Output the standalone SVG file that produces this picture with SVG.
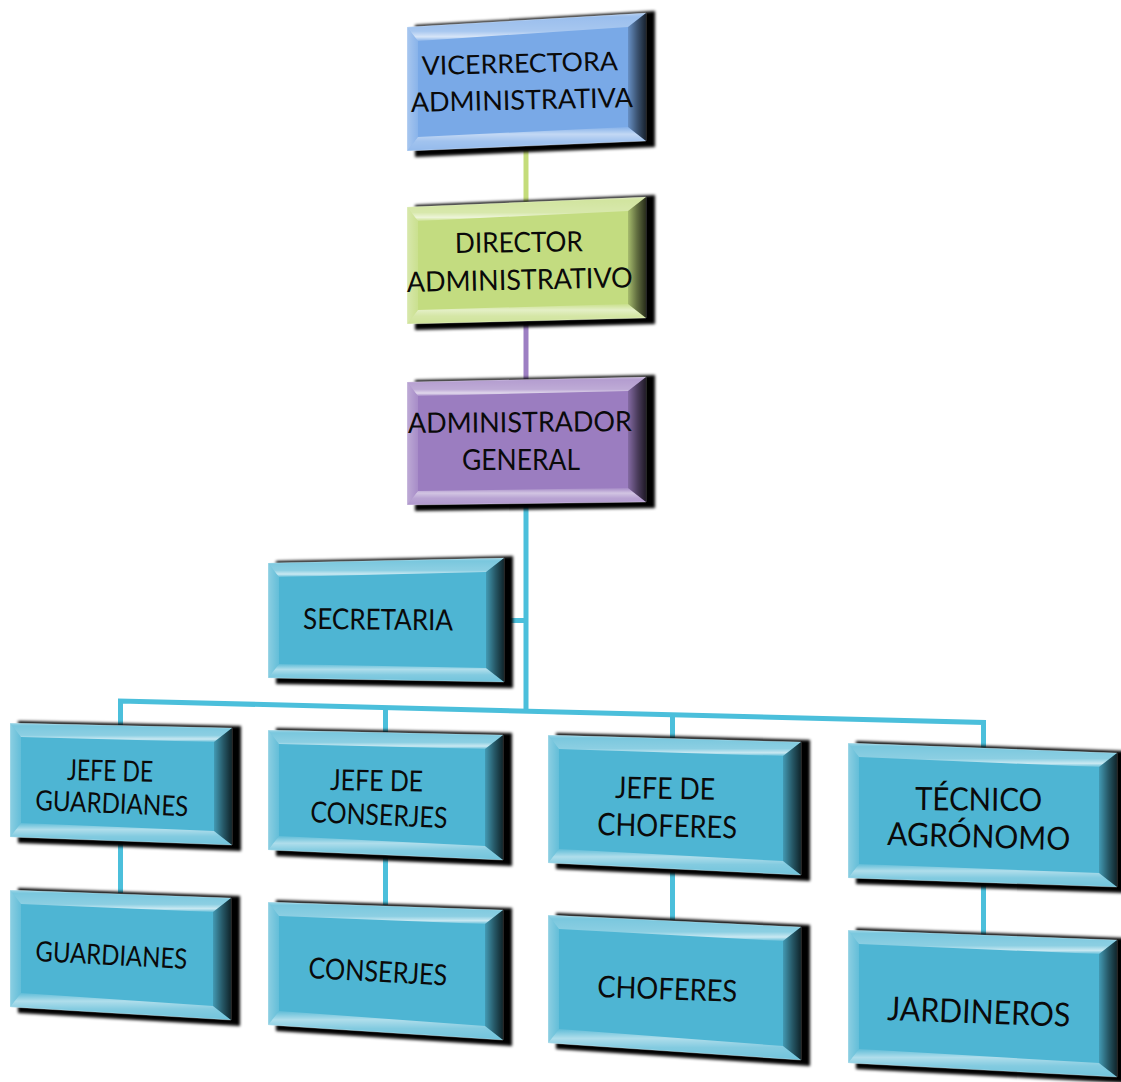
<svg xmlns="http://www.w3.org/2000/svg" width="1121" height="1082" viewBox="0 0 1121 1082">
  <defs>
    <linearGradient id="gTop" x1="0" y1="0" x2="0" y2="1">
      <stop offset="0" stop-color="#fff" stop-opacity="0.45"/>
      <stop offset="0.15" stop-color="#fff" stop-opacity="0.25"/>
      <stop offset="0.65" stop-color="#fff" stop-opacity="0.35"/>
      <stop offset="0.85" stop-color="#fff" stop-opacity="0.7"/>
      <stop offset="1" stop-color="#fff" stop-opacity="0.12"/>
    </linearGradient>
    <linearGradient id="gBot" x1="0" y1="0" x2="0" y2="1">
      <stop offset="0" stop-color="#fff" stop-opacity="0.1"/>
      <stop offset="0.3" stop-color="#fff" stop-opacity="0.55"/>
      <stop offset="0.6" stop-color="#fff" stop-opacity="0.3"/>
      <stop offset="1" stop-color="#fff" stop-opacity="0.2"/>
    </linearGradient>
    <linearGradient id="gLeft" x1="0" y1="0" x2="1" y2="0">
      <stop offset="0" stop-color="#fff" stop-opacity="0.35"/>
      <stop offset="1" stop-color="#fff" stop-opacity="0.12"/>
    </linearGradient>
    <linearGradient id="gRight" x1="0" y1="0" x2="1" y2="0">
      <stop offset="0" stop-color="#000" stop-opacity="0.15"/>
      <stop offset="0.5" stop-color="#000" stop-opacity="0.5"/>
      <stop offset="1" stop-color="#000" stop-opacity="0.8"/>
    </linearGradient>
    <filter id="soft" x="-10%" y="-10%" width="120%" height="120%">
      <feGaussianBlur stdDeviation="1.5"/>
    </filter>
  </defs>
  <style>
    .shadow{fill:#000;filter:url(#soft)}
    .blue .face{fill:#79a9e7}
    .green .face{fill:#c3dc80}
    .purple .face{fill:#9b7dc0}
    .cyan .face{fill:#4eb5d3}
    .face{stroke:#fff;stroke-opacity:0.3;stroke-width:1}
    .top{fill:url(#gTop)}
    .bot{fill:url(#gBot)}
    .left{fill:url(#gLeft)}
    .right{fill:url(#gRight)}
    .lbl{font-family:Lato,"Open Sans","Liberation Sans",sans-serif;fill:#0a0a0a}
    .ln{fill:none;stroke-width:5;stroke-linejoin:miter}
    .ln-g{stroke:#c4dc7a}
    .ln-p{stroke:#9d7fc3}
    .ln-c{stroke:#4bbfdb}
  </style>

  <g id="connectors">
    <path class="ln ln-g" d="M526,150 V208"/>
    <path class="ln ln-p" d="M526,323 V383"/>
    <path class="ln ln-c" d="M526,503 V712"/>
    <path class="ln ln-c" d="M503,620.5 H526"/>
    <path class="ln ln-c" d="M120.5,727 V701 L983.5,722.5 V750"/>
    <path class="ln ln-c" d="M385.5,707.6 V734"/>
    <path class="ln ln-c" d="M672.5,714.7 V740"/>
    <path class="ln ln-c" d="M120.5,840 V893"/>
    <path class="ln ln-c" d="M385.5,855 V905"/>
    <path class="ln ln-c" d="M672.5,870 V920"/>
    <path class="ln ln-c" d="M983.5,882 V935"/>
  </g>

  <g id="vicerrectora" class="blue">
    <path class="shadow" d="M415,25 L655,11 L655,147 L415,157 Z"/>
    <path class="face" d="M407,27 L646,13 L646,141 L407,151 Z"/>
    <path class="top" d="M407,27 L646,13 L628,27 L418,41 Z"/>
    <path class="left" d="M407,27 L418,41 L418,137 L407,151 Z"/>
    <path class="bot" d="M407,151 L418,137 L628,127 L646,141 Z"/>
    <path class="right" d="M646,13 L646,141 L628,127 L628,27 Z"/>
    <text class="lbl" font-size="26" transform="translate(422,75) rotate(-1.4)" textLength="196" lengthAdjust="spacingAndGlyphs">VICERRECTORA</text>
    <text class="lbl" font-size="27" transform="translate(411,112) rotate(-1.3)" textLength="222" lengthAdjust="spacingAndGlyphs">ADMINISTRATIVA</text>
  </g>

  <g id="director" class="green">
    <path class="shadow" d="M415,205 L655,195 L655,324 L415,330 Z"/>
    <path class="face" d="M407,207 L646,197 L646,318 L407,324 Z"/>
    <path class="top" d="M407,207 L646,197 L628,211 L418,221 Z"/>
    <path class="left" d="M407,207 L418,221 L418,310 L407,324 Z"/>
    <path class="bot" d="M407,324 L418,310 L628,304 L646,318 Z"/>
    <path class="right" d="M646,197 L646,318 L628,304 L628,211 Z"/>
    <text class="lbl" font-size="28" transform="translate(455,253) rotate(-0.8)" textLength="128" lengthAdjust="spacingAndGlyphs">DIRECTOR</text>
    <text class="lbl" font-size="28" transform="translate(407,292) rotate(-1.2)" textLength="226" lengthAdjust="spacingAndGlyphs">ADMINISTRATIVO</text>
  </g>

  <g id="administrador" class="purple">
    <path class="shadow" d="M415,380 L655,375 L655,508 L415,511 Z"/>
    <path class="face" d="M407,382 L646,377 L646,502 L407,505 Z"/>
    <path class="top" d="M407,382 L646,377 L628,391 L418,396 Z"/>
    <path class="left" d="M407,382 L418,396 L418,491 L407,505 Z"/>
    <path class="bot" d="M407,505 L418,491 L628,488 L646,502 Z"/>
    <path class="right" d="M646,377 L646,502 L628,488 L628,391 Z"/>
    <text class="lbl" font-size="28" transform="translate(408,433) rotate(-0.5)" textLength="224" lengthAdjust="spacingAndGlyphs">ADMINISTRADOR</text>
    <text class="lbl" font-size="28" transform="translate(462,470)" textLength="118" lengthAdjust="spacingAndGlyphs">GENERAL</text>
  </g>

  <g id="secretaria" class="cyan">
    <path class="shadow" d="M276,561 L513,556 L513,688 L276,684 Z"/>
    <path class="face" d="M268,563 L504,558 L504,682 L268,678 Z"/>
    <path class="top" d="M268,563 L504,558 L486,572 L279,577 Z"/>
    <path class="left" d="M268,563 L279,577 L279,664 L268,678 Z"/>
    <path class="bot" d="M268,678 L279,664 L486,668 L504,682 Z"/>
    <path class="right" d="M504,558 L504,682 L486,668 L486,572 Z"/>
    <text class="lbl" font-size="29" transform="translate(303,629) rotate(0.5)" textLength="150" lengthAdjust="spacingAndGlyphs">SECRETARIA</text>
  </g>

  <g id="jefe-guardianes" class="cyan">
    <path class="shadow" d="M18,721 L241,726 L241,851 L18,843 Z"/>
    <path class="face" d="M10,723 L232,728 L232,845 L10,837 Z"/>
    <path class="top" d="M10,723 L232,728 L214,742 L21,737 Z"/>
    <path class="left" d="M10,723 L21,737 L21,823 L10,837 Z"/>
    <path class="bot" d="M10,837 L21,823 L214,831 L232,845 Z"/>
    <path class="right" d="M232,728 L232,845 L214,831 L214,742 Z"/>
    <text class="lbl" font-size="29" transform="translate(67,780) rotate(1.2)" textLength="86" lengthAdjust="spacingAndGlyphs">JEFE DE</text>
    <text class="lbl" font-size="28" transform="translate(35,810) rotate(2.4)" textLength="153" lengthAdjust="spacingAndGlyphs">GUARDIANES</text>
  </g>

  <g id="jefe-conserjes" class="cyan">
    <path class="shadow" d="M276,728 L512,733 L512,866 L276,856 Z"/>
    <path class="face" d="M268,730 L503,735 L503,860 L268,850 Z"/>
    <path class="top" d="M268,730 L503,735 L485,749 L279,744 Z"/>
    <path class="left" d="M268,730 L279,744 L279,836 L268,850 Z"/>
    <path class="bot" d="M268,850 L279,836 L485,846 L503,860 Z"/>
    <path class="right" d="M503,735 L503,860 L485,846 L485,749 Z"/>
    <text class="lbl" font-size="29" transform="translate(330,790) rotate(1)" textLength="93" lengthAdjust="spacingAndGlyphs">JEFE DE</text>
    <text class="lbl" font-size="29" transform="translate(310,822) rotate(2.6)" textLength="137" lengthAdjust="spacingAndGlyphs">CONSERJES</text>
  </g>

  <g id="jefe-choferes" class="cyan">
    <path class="shadow" d="M556,733 L810,740 L810,881 L556,869 Z"/>
    <path class="face" d="M548,735 L801,742 L801,875 L548,863 Z"/>
    <path class="top" d="M548,735 L801,742 L783,756 L559,749 Z"/>
    <path class="left" d="M548,735 L559,749 L559,849 L548,863 Z"/>
    <path class="bot" d="M548,863 L559,849 L783,861 L801,875 Z"/>
    <path class="right" d="M801,742 L801,875 L783,861 L783,756 Z"/>
    <text class="lbl" font-size="30" transform="translate(615,798) rotate(1)" textLength="100" lengthAdjust="spacingAndGlyphs">JEFE DE</text>
    <text class="lbl" font-size="31" transform="translate(597,835) rotate(1.4)" textLength="140" lengthAdjust="spacingAndGlyphs">CHOFERES</text>
  </g>

  <g id="tecnico-agronomo" class="cyan">
    <path class="shadow" d="M856,741 L1126,751 L1126,893 L856,884 Z"/>
    <path class="face" d="M848,743 L1117,753 L1117,887 L848,878 Z"/>
    <path class="top" d="M848,743 L1117,753 L1099,767 L859,757 Z"/>
    <path class="left" d="M848,743 L859,757 L859,864 L848,878 Z"/>
    <path class="bot" d="M848,878 L859,864 L1099,873 L1117,887 Z"/>
    <path class="right" d="M1117,753 L1117,887 L1099,873 L1099,767 Z"/>
    <text class="lbl" font-size="32" transform="translate(915,810) rotate(0.5)" textLength="127" lengthAdjust="spacingAndGlyphs">TÉCNICO</text>
    <text class="lbl" font-size="32" transform="translate(887,845) rotate(1.6)" textLength="183" lengthAdjust="spacingAndGlyphs">AGRÓNOMO</text>
  </g>

  <g id="guardianes" class="cyan">
    <path class="shadow" d="M18,888 L240,896 L240,1026 L18,1013 Z"/>
    <path class="face" d="M10,890 L231,898 L231,1020 L10,1007 Z"/>
    <path class="top" d="M10,890 L231,898 L213,912 L21,904 Z"/>
    <path class="left" d="M10,890 L21,904 L21,993 L10,1007 Z"/>
    <path class="bot" d="M10,1007 L21,993 L213,1006 L231,1020 Z"/>
    <path class="right" d="M231,898 L231,1020 L213,1006 L213,912 Z"/>
    <text class="lbl" font-size="28" transform="translate(35,961) rotate(3)" textLength="152" lengthAdjust="spacingAndGlyphs">GUARDIANES</text>
  </g>

  <g id="conserjes" class="cyan">
    <path class="shadow" d="M276,900 L512,908 L512,1046 L276,1031 Z"/>
    <path class="face" d="M268,902 L503,910 L503,1040 L268,1025 Z"/>
    <path class="top" d="M268,902 L503,910 L485,924 L279,916 Z"/>
    <path class="left" d="M268,902 L279,916 L279,1011 L268,1025 Z"/>
    <path class="bot" d="M268,1025 L279,1011 L485,1026 L503,1040 Z"/>
    <path class="right" d="M503,910 L503,1040 L485,1026 L485,924 Z"/>
    <text class="lbl" font-size="29" transform="translate(308,978) rotate(3.1)" textLength="139" lengthAdjust="spacingAndGlyphs">CONSERJES</text>
  </g>

  <g id="choferes" class="cyan">
    <path class="shadow" d="M556,913 L810,925 L810,1066 L556,1049 Z"/>
    <path class="face" d="M548,915 L801,927 L801,1060 L548,1043 Z"/>
    <path class="top" d="M548,915 L801,927 L783,941 L559,929 Z"/>
    <path class="left" d="M548,915 L559,929 L559,1029 L548,1043 Z"/>
    <path class="bot" d="M548,1043 L559,1029 L783,1046 L801,1060 Z"/>
    <path class="right" d="M801,927 L801,1060 L783,1046 L783,941 Z"/>
    <text class="lbl" font-size="30" transform="translate(597,997) rotate(2)" textLength="140" lengthAdjust="spacingAndGlyphs">CHOFERES</text>
  </g>

  <g id="jardineros" class="cyan">
    <path class="shadow" d="M856,928 L1126,938 L1126,1083 L856,1069 Z"/>
    <path class="face" d="M848,930 L1117,940 L1117,1077 L848,1063 Z"/>
    <path class="top" d="M848,930 L1117,940 L1099,954 L859,944 Z"/>
    <path class="left" d="M848,930 L859,944 L859,1049 L848,1063 Z"/>
    <path class="bot" d="M848,1063 L859,1049 L1099,1063 L1117,1077 Z"/>
    <path class="right" d="M1117,940 L1117,1077 L1099,1063 L1099,954 Z"/>
    <text class="lbl" font-size="33" transform="translate(887,1020) rotate(2.1)" textLength="183" lengthAdjust="spacingAndGlyphs">JARDINEROS</text>
  </g>
</svg>
